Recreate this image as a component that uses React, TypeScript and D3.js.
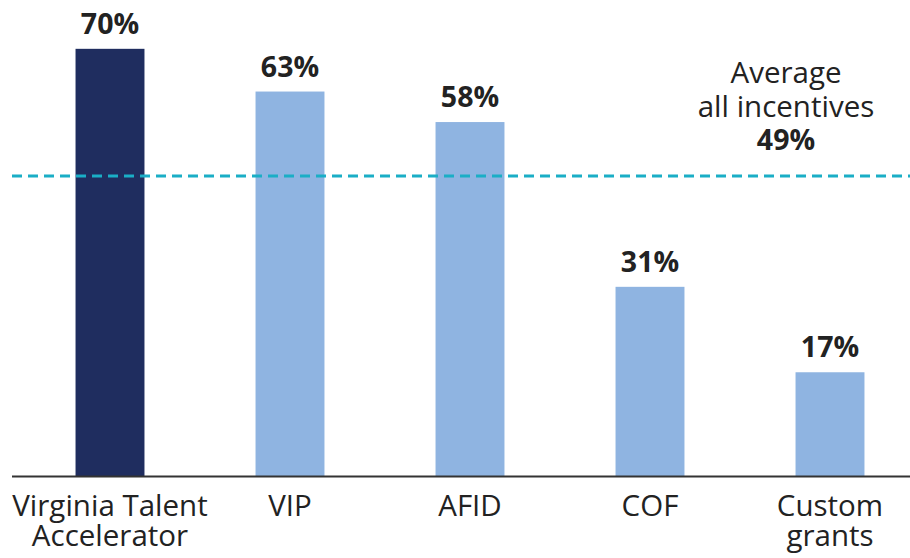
import { useEffect, useRef } from "react";
import * as d3 from "d3";

const categories = ["Virginia Talent Accelerator", "VIP", "AFID", "COF", "Custom grants"];
const labelLines = [["Virginia Talent", "Accelerator"], ["VIP"], ["AFID"], ["COF"], ["Custom", "grants"]];
const values = [70, 63, 58, 31, 17];
const highlight = ["Virginia Talent Accelerator"];
const averageValue = 49;
const averageLines = ["Average", "all incentives"];

const width = 910;
const height = 558;

export default function App() {
  const svgRef = useRef<SVGSVGElement>(null);

  useEffect(() => {
    if (!svgRef.current) return;
    const svg = d3.select(svgRef.current);
    svg.selectAll("*").remove();

    const font = "'Open Sans', 'Noto Sans', sans-serif";
    const baseY = 476;

    const x = d3
      .scaleBand<string>()
      .domain(categories)
      .range([20, 920])
      .paddingInner(0.617)
      .paddingOuter(0.3085);

    const y = d3.scaleLinear().domain([0, 78]).range([baseY, 0]);

    const data = categories.map((c, i) => ({ cat: c, value: values[i], lines: labelLines[i] }));

    // bars
    svg
      .selectAll("rect.bar")
      .data(data)
      .enter()
      .append("rect")
      .attr("class", "bar")
      .attr("x", (d) => x(d.cat)!)
      .attr("y", (d) => y(d.value))
      .attr("width", x.bandwidth())
      .attr("height", (d) => baseY - y(d.value))
      .attr("fill", (d) => (highlight.includes(d.cat) ? "#1f2d5f" : "#8fb4e1"));

    // value labels
    svg
      .selectAll("text.val")
      .data(data)
      .enter()
      .append("text")
      .attr("class", "val")
      .attr("x", (d) => x(d.cat)! + x.bandwidth() / 2)
      .attr("y", (d) => y(d.value) - 15)
      .attr("text-anchor", "middle")
      .attr("font-family", font)
      .attr("font-weight", "bold")
      .attr("font-size", 28.5)
      .attr("fill", "#222")
      .text((d) => `${d.value}%`);

    // baseline
    svg
      .append("line")
      .attr("x1", 12)
      .attr("x2", 910)
      .attr("y1", baseY + 0.5)
      .attr("y2", baseY + 0.5)
      .attr("stroke", "#333")
      .attr("stroke-width", 2);

    // category labels, one text per line
    data.forEach((d) => {
      const cx = x(d.cat)! + x.bandwidth() / 2;
      d.lines.forEach((l, i) => {
        svg
          .append("text")
          .attr("x", cx)
          .attr("y", 516 + i * 30)
          .attr("text-anchor", "middle")
          .attr("font-family", font)
          .attr("font-size", 29.5)
          .attr("fill", "#222")
          .text(l);
      });
    });

    // average line
    svg
      .append("line")
      .attr("x1", 12)
      .attr("x2", 910)
      .attr("y1", y(averageValue) - 1)
      .attr("y2", y(averageValue) - 1)
      .attr("stroke", "#1aaec6")
      .attr("stroke-width", 3)
      .attr("stroke-dasharray", "10,6");

    const ax = 786;
    averageLines.forEach((l, i) => {
      svg
        .append("text")
        .attr("x", ax)
        .attr("y", 83 + i * 33.5)
        .attr("text-anchor", "middle")
        .attr("font-family", font)
        .attr("font-size", 29.5)
        .attr("fill", "#222")
        .text(l);
    });
    svg
      .append("text")
      .attr("x", ax)
      .attr("y", 150)
      .attr("text-anchor", "middle")
      .attr("font-family", font)
      .attr("font-weight", "bold")
      .attr("font-size", 28.5)
      .attr("fill", "#222")
      .text(`${averageValue}%`);
  }, []);

  return <svg ref={svgRef} width={width} height={height} style={{ position: "absolute", left: 0, top: 0, background: "#fff" }} />;
}
